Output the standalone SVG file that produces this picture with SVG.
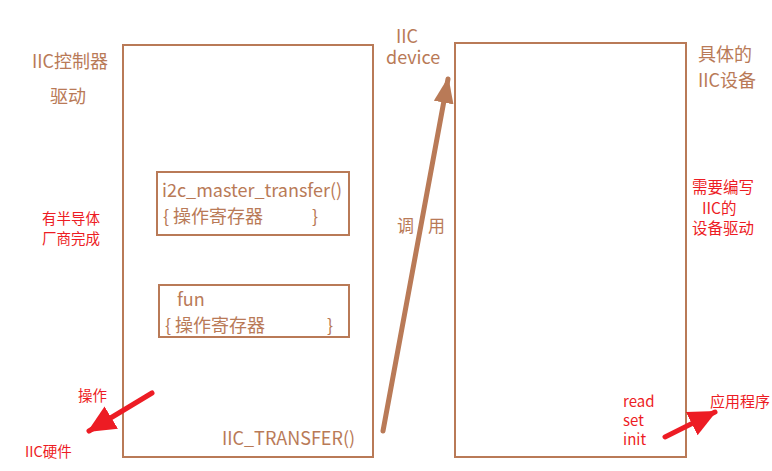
<svg xmlns="http://www.w3.org/2000/svg" width="772" height="471" viewBox="0 0 772 471">
<style>
.b{fill:none;stroke:#B97A57;stroke-width:2}
.t{font-family:"Noto Sans CJK SC","Liberation Sans",sans-serif;fill:#B97A57}
.r{font-family:"Noto Sans CJK SC","Liberation Sans",sans-serif;fill:#ED1C24}
</style>
<defs>
<marker id="ab" markerUnits="userSpaceOnUse" markerWidth="26" markerHeight="20" refX="24" refY="10" orient="auto"><path d="M0,0 L26,10 L0,20 Z" fill="#B97A57"/></marker>
<marker id="ar" markerUnits="userSpaceOnUse" markerWidth="28" markerHeight="26" refX="26" refY="13" orient="auto"><path d="M0,0 L28,13 L0,26 Z" fill="#ED1C24"/></marker>
</defs>
<rect width="772" height="471" fill="#fff"/>
<g id="controller">
<rect class="b" x="123" y="45" width="250" height="412"/>
<text class="t" x="222" y="445" font-size="18">IIC_TRANSFER()</text>
</g>
<g id="master">
<rect class="b" x="157" y="172" width="192" height="63"/>
<text class="t" x="162" y="197" font-size="18">i2c_master_transfer()</text>
<text class="t" x="163" y="223" font-size="18">{ 操作寄存器</text>
<text class="t" x="312" y="223" font-size="18">}</text>
</g>
<g id="fun">
<rect class="b" x="159" y="285" width="190" height="52"/>
<text class="t" x="177" y="306" font-size="18">fun</text>
<text class="t" x="165" y="332" font-size="18">{ 操作寄存器</text>
<text class="t" x="327" y="332" font-size="18">}</text>
</g>
<g id="device">
<rect class="b" x="455" y="43" width="231" height="414"/>
</g>
<g id="labels">
<text class="t" x="32" y="68" font-size="18">IIC控制器</text>
<text class="t" x="50" y="103" font-size="18">驱动</text>
<text class="r" x="42" y="224" font-size="14.5">有半导体</text>
<text class="r" x="42" y="244" font-size="14.5">厂商完成</text>
<text class="r" x="78" y="401" font-size="14.5">操作</text>
<text class="r" x="25" y="457" font-size="14.5">IIC硬件</text>
<text class="t" x="407" y="43" font-size="18" text-anchor="middle">IIC</text>
<text class="t" x="386" y="64" font-size="18">device</text>
<text class="t" x="397" y="232" font-size="17">调</text>
<text class="t" x="428" y="232" font-size="17">用</text>
<text class="t" x="698" y="61" font-size="18">具体的</text>
<text class="t" x="698" y="87" font-size="18">IIC设备</text>
<text class="r" x="692" y="193" font-size="15.5">需要编写</text>
<text class="r" x="702" y="214" font-size="15.5">IIC的</text>
<text class="r" x="692" y="234" font-size="15.5">设备驱动</text>
<text class="r" x="623" y="407" font-size="15">read</text>
<text class="r" x="623" y="426" font-size="15">set</text>
<text class="r" x="623" y="445" font-size="15">init</text>
<text class="r" x="710" y="407" font-size="15">应用程序</text>
</g>
<g id="connectors">
<line x1="383" y1="431" x2="448" y2="79" stroke="#B97A57" stroke-width="5" stroke-linecap="round" marker-end="url(#ab)"/>
<line x1="152" y1="393" x2="89" y2="431" stroke="#ED1C24" stroke-width="5" stroke-linecap="round" marker-end="url(#ar)"/>
<line x1="665" y1="437" x2="715" y2="412" stroke="#ED1C24" stroke-width="5" stroke-linecap="round" marker-end="url(#ar)"/>
</g>
</svg>
